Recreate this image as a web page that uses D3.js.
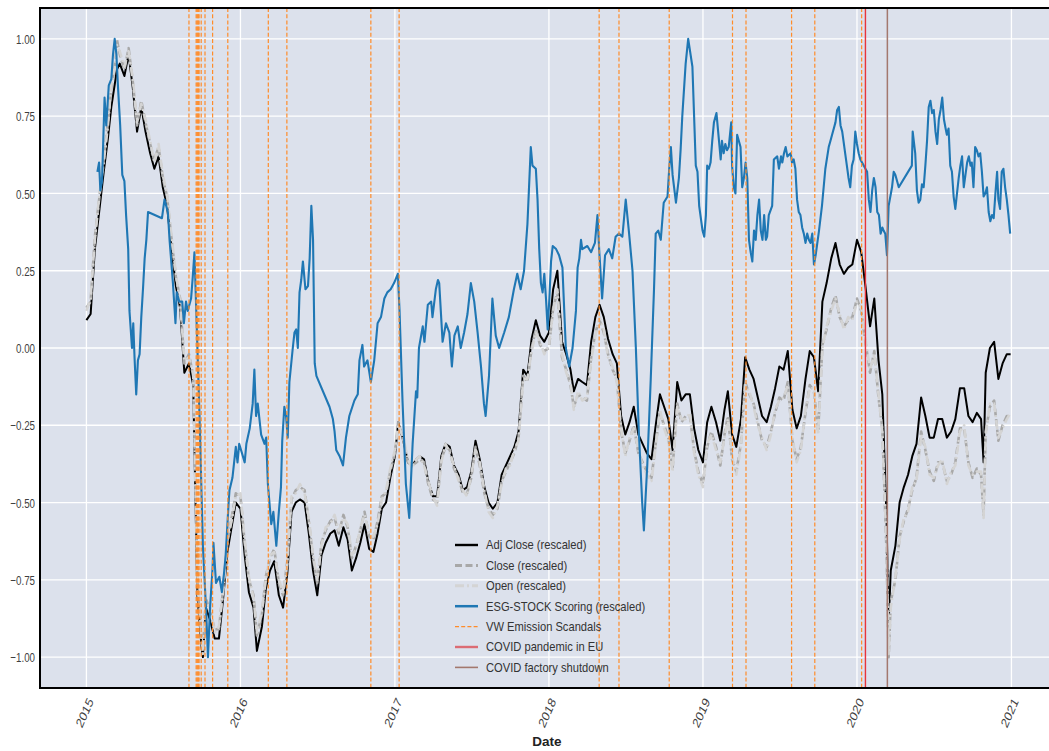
<!DOCTYPE html>
<html>
<head>
<meta charset="utf-8">
<script src="https://cdn.jsdelivr.net/npm/d3@7"></script>
<style>
  body { margin: 0; background: #fff; }
  svg { display: block; font-family: "Liberation Sans", Arial, Helvetica, sans-serif; }
</style>
</head>
<body>
<svg id="chart" width="1049" height="751"></svg>
<script>
// ---- data (all series rescaled to [-1, 1]) ----
const stockDates = [
  "2015-01-01","2015-01-11","2015-01-21","2015-02-01","2015-02-11","2015-02-21","2015-03-01","2015-03-11","2015-03-14","2015-03-21","2015-04-01","2015-04-11","2015-04-21","2015-05-01","2015-05-11","2015-05-21","2015-06-01","2015-06-11","2015-06-21","2015-07-01","2015-07-11","2015-07-21","2015-08-01","2015-08-11","2015-08-21","2015-09-01","2015-09-11","2015-09-21","2015-10-01","2015-10-04","2015-10-11","2015-10-21","2015-11-01","2015-11-11","2015-11-21","2015-12-01","2015-12-11","2015-12-21",
  "2016-01-01","2016-01-11","2016-01-21","2016-02-01","2016-02-09","2016-02-21","2016-03-01","2016-03-11","2016-03-21","2016-04-01","2016-04-11","2016-04-21","2016-05-01","2016-05-11","2016-05-21","2016-06-01","2016-06-11","2016-06-21","2016-07-01","2016-07-11","2016-07-21","2016-08-01","2016-08-11","2016-08-21","2016-09-01","2016-09-11","2016-09-21","2016-10-01","2016-10-11","2016-10-21","2016-11-01","2016-11-11","2016-11-21","2016-12-01","2016-12-11","2016-12-21",
  "2017-01-01","2017-01-09","2017-01-21","2017-02-01","2017-02-11","2017-02-21","2017-03-01","2017-03-11","2017-03-21","2017-04-01","2017-04-11","2017-04-21","2017-05-01","2017-05-11","2017-05-21","2017-06-01","2017-06-11","2017-06-21","2017-07-01","2017-07-11","2017-07-21","2017-08-01","2017-08-11","2017-08-21","2017-09-01","2017-09-11","2017-09-21","2017-10-01","2017-10-11","2017-10-21","2017-11-01","2017-11-11","2017-11-21","2017-12-01","2017-12-11","2017-12-21",
  "2018-01-01","2018-01-11","2018-01-21","2018-02-01","2018-02-11","2018-02-21","2018-03-01","2018-03-11","2018-03-21","2018-04-01","2018-04-11","2018-04-21","2018-05-01","2018-05-11","2018-05-21","2018-06-01","2018-06-11","2018-06-21","2018-07-01","2018-07-11","2018-07-21","2018-08-01","2018-08-11","2018-08-21","2018-09-01","2018-09-11","2018-09-21","2018-10-01","2018-10-11","2018-10-21","2018-11-01","2018-11-11","2018-11-21","2018-12-01","2018-12-11","2018-12-21",
  "2019-01-01","2019-01-11","2019-01-21","2019-02-01","2019-02-11","2019-02-21","2019-03-01","2019-03-11","2019-03-21","2019-04-01","2019-04-11","2019-04-21","2019-05-01","2019-05-11","2019-05-21","2019-06-01","2019-06-11","2019-06-21","2019-07-01","2019-07-11","2019-07-21","2019-08-01","2019-08-11","2019-08-21","2019-09-01","2019-09-11","2019-09-21","2019-10-01","2019-10-11","2019-10-21","2019-11-01","2019-11-11","2019-11-21","2019-12-01","2019-12-11","2019-12-21",
  "2020-01-01","2020-01-11","2020-01-21","2020-02-01","2020-02-11","2020-02-21","2020-03-01","2020-03-11","2020-03-16","2020-03-21","2020-04-01","2020-04-11","2020-04-21","2020-05-01","2020-05-11","2020-05-21","2020-06-01","2020-06-11","2020-06-21","2020-07-01","2020-07-11","2020-07-21","2020-08-01","2020-08-11","2020-08-21","2020-09-01","2020-09-11","2020-09-21","2020-10-01","2020-10-11","2020-10-21","2020-10-27","2020-11-01","2020-11-11","2020-11-21","2020-12-01","2020-12-11","2020-12-21","2020-12-30"
];

const adjClose = [
  0.09, 0.11, 0.32, 0.45, 0.57, 0.68, 0.78, 0.87, 0.90, 0.92, 0.88, 0.95, 0.84, 0.70, 0.78, 0.70, 0.63, 0.58, 0.62, 0.52, 0.46, 0.33, 0.20, 0.13, -0.08, -0.05, -0.12, -0.80, -0.97, -1.00, -0.84, -0.88, -0.94, -0.94, -0.81, -0.66, -0.58, -0.50,
  -0.52, -0.67, -0.79, -0.84, -0.98, -0.90, -0.78, -0.72, -0.69, -0.80, -0.84, -0.73, -0.53, -0.50, -0.49, -0.50, -0.60, -0.72, -0.80, -0.67, -0.63, -0.60, -0.59, -0.64, -0.58, -0.62, -0.72, -0.68, -0.63, -0.57, -0.65, -0.66, -0.60, -0.52, -0.50, -0.42,
  -0.35, -0.24, -0.30, -0.37, -0.38, -0.36, -0.35, -0.36, -0.43, -0.48, -0.48, -0.35, -0.31, -0.32, -0.38, -0.41, -0.46, -0.45, -0.40, -0.30, -0.36, -0.45, -0.50, -0.52, -0.50, -0.41, -0.38, -0.35, -0.32, -0.27, -0.07, -0.09, 0.03, 0.09, 0.04, 0.02,
  0.05, 0.19, 0.25, 0.02, -0.02, -0.07, -0.14, -0.10, -0.11, -0.12, 0.02, 0.10, 0.14, 0.10, 0.03, -0.02, -0.05, -0.22, -0.28, -0.24, -0.19, -0.28, -0.31, -0.34, -0.36, -0.25, -0.15, -0.19, -0.23, -0.33, -0.11, -0.17, -0.15, -0.15, -0.26, -0.33,
  -0.37, -0.24, -0.19, -0.24, -0.30, -0.20, -0.14, -0.28, -0.32, -0.23, -0.03, -0.07, -0.10, -0.16, -0.22, -0.24, -0.19, -0.13, -0.06, -0.07, -0.01, -0.20, -0.26, -0.22, -0.10, -0.01, -0.03, -0.14, 0.15, 0.21, 0.29, 0.34, 0.27, 0.24, 0.26, 0.27,
  0.35, 0.31, 0.20, 0.07, 0.16, -0.04, -0.15, -0.55, -0.89, -0.72, -0.64, -0.50, -0.45, -0.41, -0.35, -0.31, -0.16, -0.22, -0.29, -0.29, -0.23, -0.23, -0.29, -0.27, -0.23, -0.13, -0.13, -0.22, -0.24, -0.21, -0.23, -0.37, -0.08, 0.00, 0.02, -0.10, -0.05, -0.02, -0.02
];

const closePrice = [
  0.13, 0.15, 0.36, 0.49, 0.61, 0.73, 0.84, 0.93, 1.00, 0.95, 0.90, 0.97, 0.86, 0.72, 0.80, 0.73, 0.66, 0.61, 0.65, 0.55, 0.49, 0.36, 0.23, 0.16, -0.05, -0.02, -0.09, -0.77, -0.95, -0.98, -0.81, -0.85, -0.91, -0.91, -0.78, -0.63, -0.55, -0.47,
  -0.48, -0.63, -0.75, -0.80, -0.93, -0.86, -0.74, -0.68, -0.65, -0.76, -0.80, -0.69, -0.49, -0.46, -0.45, -0.46, -0.56, -0.68, -0.76, -0.63, -0.59, -0.56, -0.55, -0.60, -0.54, -0.58, -0.68, -0.64, -0.59, -0.53, -0.61, -0.62, -0.56, -0.48, -0.47, -0.40,
  -0.34, -0.24, -0.30, -0.37, -0.38, -0.37, -0.36, -0.37, -0.44, -0.49, -0.50, -0.36, -0.32, -0.33, -0.39, -0.42, -0.47, -0.47, -0.42, -0.32, -0.38, -0.47, -0.52, -0.54, -0.52, -0.43, -0.40, -0.37, -0.34, -0.29, -0.09, -0.11, 0.00, 0.06, 0.01, -0.01,
  0.00, 0.13, 0.18, -0.03, -0.07, -0.12, -0.19, -0.15, -0.16, -0.17, -0.03, 0.05, 0.09, 0.05, -0.02, -0.07, -0.10, -0.27, -0.34, -0.30, -0.25, -0.34, -0.37, -0.40, -0.42, -0.31, -0.21, -0.25, -0.29, -0.39, -0.18, -0.24, -0.22, -0.22, -0.33, -0.40,
  -0.44, -0.32, -0.27, -0.32, -0.38, -0.28, -0.22, -0.36, -0.40, -0.31, -0.11, -0.15, -0.18, -0.24, -0.30, -0.32, -0.27, -0.21, -0.16, -0.17, -0.11, -0.30, -0.36, -0.32, -0.21, -0.12, -0.14, -0.27, 0.01, 0.06, 0.13, 0.17, 0.10, 0.07, 0.09, 0.10,
  0.16, 0.12, 0.02, -0.08, -0.01, -0.16, -0.26, -0.66, -1.00, -0.82, -0.75, -0.61, -0.56, -0.52, -0.46, -0.42, -0.27, -0.33, -0.40, -0.43, -0.37, -0.37, -0.43, -0.41, -0.37, -0.26, -0.26, -0.37, -0.42, -0.39, -0.41, -0.54, -0.27, -0.19, -0.17, -0.30, -0.25, -0.22, -0.22
];

const openPrice = [
  0.12, 0.16, 0.35, 0.50, 0.60, 0.72, 0.85, 0.92, 0.98, 0.96, 0.91, 0.96, 0.87, 0.73, 0.79, 0.74, 0.67, 0.60, 0.66, 0.56, 0.50, 0.37, 0.24, 0.15, -0.04, -0.03, -0.08, -0.74, -0.94, -0.99, -0.82, -0.84, -0.92, -0.90, -0.79, -0.62, -0.56, -0.48,
  -0.47, -0.62, -0.74, -0.81, -0.92, -0.85, -0.75, -0.67, -0.66, -0.75, -0.79, -0.70, -0.48, -0.47, -0.44, -0.47, -0.55, -0.67, -0.75, -0.64, -0.58, -0.57, -0.54, -0.59, -0.55, -0.57, -0.67, -0.65, -0.58, -0.54, -0.60, -0.61, -0.57, -0.49, -0.46, -0.39,
  -0.33, -0.25, -0.29, -0.36, -0.39, -0.36, -0.35, -0.38, -0.43, -0.48, -0.51, -0.37, -0.31, -0.34, -0.38, -0.43, -0.46, -0.48, -0.41, -0.33, -0.37, -0.46, -0.53, -0.55, -0.51, -0.44, -0.39, -0.38, -0.33, -0.30, -0.10, -0.10, -0.01, 0.05, 0.02, -0.02,
  0.01, 0.12, 0.19, -0.02, -0.08, -0.11, -0.20, -0.14, -0.17, -0.16, -0.04, 0.04, 0.10, 0.06, -0.03, -0.06, -0.11, -0.26, -0.35, -0.29, -0.26, -0.33, -0.38, -0.41, -0.43, -0.32, -0.20, -0.26, -0.30, -0.40, -0.19, -0.23, -0.23, -0.21, -0.34, -0.41,
  -0.45, -0.31, -0.28, -0.33, -0.37, -0.29, -0.23, -0.35, -0.41, -0.32, -0.12, -0.14, -0.19, -0.25, -0.29, -0.33, -0.28, -0.20, -0.17, -0.16, -0.12, -0.29, -0.37, -0.33, -0.20, -0.13, -0.13, -0.28, 0.00, 0.07, 0.12, 0.16, 0.11, 0.06, 0.10, 0.09,
  0.15, 0.13, 0.03, -0.07, -0.02, -0.15, -0.27, -0.64, -0.99, -0.84, -0.74, -0.62, -0.55, -0.53, -0.45, -0.43, -0.28, -0.32, -0.41, -0.42, -0.38, -0.36, -0.44, -0.40, -0.38, -0.27, -0.25, -0.38, -0.41, -0.40, -0.40, -0.55, -0.28, -0.18, -0.18, -0.29, -0.26, -0.23, -0.21
];

// ESG-STOCK scoring, [date, rescaled score]
const esgScoring = [
  ["2015-01-27",0.57],["2015-01-31",0.60],["2015-02-03",0.51],["2015-02-07",0.54],["2015-02-13",0.81],["2015-02-17",0.72],["2015-02-23",0.85],["2015-03-01",0.87],["2015-03-05",0.95],["2015-03-09",1.00],["2015-03-13",0.95],["2015-03-17",0.84],["2015-03-22",0.72],["2015-03-27",0.56],["2015-04-01",0.54],["2015-04-05",0.43],["2015-04-10",0.32],["2015-04-13",0.12],["2015-04-19",0.00],["2015-04-22",0.08],["2015-04-25",-0.03],["2015-04-29",-0.15],["2015-05-03",-0.04],["2015-05-07",-0.02],["2015-05-11",0.10],["2015-05-15",0.19],["2015-05-19",0.29],["2015-05-23",0.35],["2015-05-27",0.44],
  ["2015-06-29",0.42],["2015-07-05",0.48],["2015-07-13",0.44],["2015-07-17",0.35],["2015-07-25",0.21],["2015-07-31",0.08],["2015-08-03",0.18],["2015-08-09",0.15],["2015-08-16",0.15],["2015-08-20",0.08],["2015-08-25",0.15],["2015-08-29",0.12],["2015-09-06",0.16],["2015-09-10",0.23],["2015-09-14",0.31],["2015-09-26",-0.22],["2015-10-04",-0.64],["2015-10-12",-0.86],["2015-10-16",-1.00],["2015-10-21",-0.84],["2015-10-27",-0.71],["2015-10-29",-0.63],["2015-11-04",-0.76],["2015-11-12",-0.74],["2015-11-18",-0.79],["2015-11-23",-0.73],["2015-11-27",-0.67],["2015-12-04",-0.50],["2015-12-06",-0.46],["2015-12-13",-0.42],["2015-12-21",-0.32],["2015-12-25",-0.37],["2015-12-29",-0.31],
  ["2016-01-11",-0.37],["2016-01-15",-0.31],["2016-01-23",-0.26],["2016-01-30",-0.18],["2016-02-03",-0.07],["2016-02-07",-0.22],["2016-02-11",-0.18],["2016-02-19",-0.28],["2016-02-27",-0.31],["2016-03-02",-0.29],["2016-03-06",-0.44],["2016-03-14",-0.57],["2016-03-19",-0.53],["2016-03-26",-0.64],["2016-04-01",-0.53],["2016-04-06",-0.45],["2016-04-09",-0.30],["2016-04-14",-0.19],["2016-04-18",-0.22],["2016-04-22",-0.29],["2016-04-26",-0.11],["2016-05-04",0.00],["2016-05-08",0.05],["2016-05-12",0.06],["2016-05-16",0.00],["2016-05-20",0.18],["2016-05-24",0.22],["2016-05-28",0.28],["2016-06-03",0.19],["2016-06-09",0.20],["2016-06-13",0.29],["2016-06-17",0.46],["2016-06-21",0.35],["2016-06-25",-0.05],["2016-06-29",-0.09],
  ["2016-07-30",-0.19],["2016-08-07",-0.23],["2016-08-11",-0.27],["2016-08-15",-0.33],["2016-08-23",-0.35],["2016-08-31",-0.38],["2016-09-07",-0.29],["2016-09-15",-0.22],["2016-09-27",-0.17],["2016-10-05",-0.15],["2016-10-09",-0.04],["2016-10-16",0.01],["2016-10-20",-0.06],["2016-10-28",-0.04],["2016-11-05",-0.11],["2016-11-13",-0.04],["2016-11-21",0.08],["2016-11-29",0.10],["2016-12-07",0.16],["2016-12-14",0.18],["2016-12-22",0.19],["2016-12-30",0.21],
  ["2017-01-08",0.24],["2017-01-12",0.12],["2017-01-19",-0.17],["2017-01-27",-0.44],["2017-02-04",-0.55],["2017-02-12",-0.31],["2017-02-20",-0.14],["2017-02-23",-0.16],["2017-02-27",0.00],["2017-03-08",0.07],["2017-03-12",0.02],["2017-03-20",0.14],["2017-03-28",0.15],["2017-03-31",0.10],["2017-04-08",0.19],["2017-04-13",0.22],["2017-04-16",0.21],["2017-04-24",0.02],["2017-05-02",0.08],["2017-05-10",0.05],["2017-05-16",-0.06],["2017-05-22",0.04],["2017-05-30",0.07],["2017-06-06",0.00],["2017-06-14",0.05],["2017-06-22",0.11],["2017-06-30",0.21],["2017-07-08",0.15],["2017-07-16",0.05],["2017-07-24",-0.06],["2017-07-31",-0.18],["2017-08-04",-0.22],["2017-08-12",-0.09],["2017-08-20",0.16],["2017-08-28",0.04],["2017-09-05",0.00],["2017-09-17",0.05],["2017-09-28",0.10],["2017-10-10",0.19],["2017-10-18",0.24],["2017-10-26",0.19],["2017-11-03",0.25],["2017-11-11",0.40],["2017-11-19",0.65],["2017-11-23",0.59],["2017-12-01",0.58],["2017-12-05",0.48],["2017-12-09",0.32],["2017-12-13",0.21],["2017-12-17",0.18],["2017-12-21",0.24],["2017-12-25",0.16],["2017-12-29",0.06],
  ["2018-01-02",0.16],["2018-01-06",0.28],["2018-01-10",0.33],["2018-01-18",0.32],["2018-01-25",0.30],["2018-02-02",0.26],["2018-02-10",0.00],["2018-02-18",-0.06],["2018-02-26",0.00],["2018-03-06",0.12],["2018-03-10",0.26],["2018-03-14",0.29],["2018-03-18",0.35],["2018-03-21",0.32],["2018-04-02",0.33],["2018-04-11",0.31],["2018-04-20",0.34],["2018-04-26",0.43],["2018-04-30",0.32],["2018-05-07",0.16],["2018-05-14",0.30],["2018-05-23",0.32],["2018-05-31",0.29],["2018-06-08",0.36],["2018-06-16",0.37],["2018-06-24",0.36],["2018-07-02",0.48],["2018-07-10",0.37],["2018-07-18",0.25],["2018-07-26",0.00],["2018-08-02",-0.27],["2018-08-10",-0.50],["2018-08-14",-0.59],["2018-08-22",-0.38],["2018-08-30",-0.11],["2018-09-07",0.19],["2018-09-11",0.37],["2018-09-17",0.38],["2018-09-23",0.35],["2018-09-30",0.47],["2018-10-09",0.49],["2018-10-13",0.58],["2018-10-17",0.65],["2018-10-21",0.56],["2018-10-29",0.47],["2018-11-05",0.55],["2018-11-09",0.64],["2018-11-13",0.75],["2018-11-21",0.92],["2018-11-27",1.00],["2018-12-07",0.91],["2018-12-15",0.59],["2018-12-19",0.57],["2018-12-23",0.46],["2018-12-31",0.38],
  ["2019-01-04",0.36],["2019-01-08",0.43],["2019-01-11",0.59],["2019-01-15",0.58],["2019-01-19",0.60],["2019-01-23",0.67],["2019-01-27",0.73],["2019-02-02",0.76],["2019-02-08",0.67],["2019-02-12",0.61],["2019-02-15",0.67],["2019-02-19",0.63],["2019-02-23",0.66],["2019-02-27",0.64],["2019-03-03",0.65],["2019-03-09",0.73],["2019-03-11",0.59],["2019-03-15",0.52],["2019-03-19",0.50],["2019-03-23",0.69],["2019-03-31",0.65],["2019-04-04",0.52],["2019-04-08",0.55],["2019-04-12",0.60],["2019-04-16",0.55],["2019-04-20",0.35],["2019-04-24",0.31],["2019-04-28",0.28],["2019-05-02",0.38],["2019-05-06",0.35],["2019-05-10",0.43],["2019-05-14",0.48],["2019-05-18",0.38],["2019-05-22",0.35],["2019-05-26",0.43],["2019-05-30",0.35],["2019-06-02",0.36],["2019-06-06",0.43],["2019-06-14",0.46],["2019-06-18",0.61],["2019-06-26",0.62],["2019-06-30",0.58],["2019-07-05",0.62],["2019-07-08",0.60],["2019-07-12",0.63],["2019-07-16",0.65],["2019-07-20",0.62],["2019-07-28",0.63],["2019-07-31",0.60],["2019-08-04",0.61],["2019-08-08",0.58],["2019-08-12",0.48],["2019-08-16",0.44],["2019-08-20",0.43],["2019-08-24",0.39],["2019-08-28",0.37],["2019-09-01",0.34],["2019-09-05",0.37],["2019-09-09",0.35],["2019-09-13",0.34],["2019-09-17",0.37],["2019-09-21",0.27],["2019-09-25",0.30],["2019-10-03",0.38],["2019-10-10",0.46],["2019-10-18",0.58],["2019-10-26",0.65],["2019-10-30",0.67],["2019-11-03",0.69],["2019-11-11",0.73],["2019-11-15",0.77],["2019-11-19",0.78],["2019-11-23",0.72],["2019-11-27",0.70],["2019-11-30",0.67],["2019-12-04",0.63],["2019-12-08",0.59],["2019-12-12",0.55],["2019-12-16",0.52],["2019-12-20",0.59],["2019-12-24",0.61],["2019-12-28",0.70],
  ["2020-01-01",0.66],["2020-01-05",0.63],["2020-01-09",0.61],["2020-01-13",0.60],["2020-01-21",0.58],["2020-01-25",0.57],["2020-01-29",0.48],["2020-02-02",0.44],["2020-02-06",0.51],["2020-02-10",0.55],["2020-02-14",0.52],["2020-02-18",0.44],["2020-02-22",0.43],["2020-02-26",0.37],["2020-03-01",0.39],["2020-03-04",0.38],["2020-03-08",0.37],["2020-03-12",0.30],["2020-03-16",0.46],["2020-03-20",0.49],["2020-03-24",0.52],["2020-03-28",0.57],["2020-04-01",0.56],["2020-04-09",0.52],
  ["2020-05-10",0.59],["2020-05-12",0.70],["2020-05-18",0.63],["2020-05-22",0.51],["2020-05-26",0.47],["2020-05-30",0.48],["2020-06-03",0.53],["2020-06-07",0.52],["2020-06-11",0.59],["2020-06-15",0.67],["2020-06-19",0.78],["2020-06-23",0.80],["2020-06-27",0.76],["2020-07-01",0.77],["2020-07-05",0.70],["2020-07-09",0.66],["2020-07-13",0.74],["2020-07-17",0.77],["2020-07-21",0.81],["2020-07-25",0.74],["2020-07-29",0.71],["2020-08-01",0.69],["2020-08-05",0.71],["2020-08-09",0.59],["2020-08-13",0.57],["2020-08-17",0.49],["2020-08-21",0.45],["2020-08-25",0.50],["2020-08-29",0.55],["2020-09-02",0.59],["2020-09-06",0.62],["2020-09-10",0.52],["2020-09-14",0.56],["2020-09-18",0.60],["2020-09-22",0.62],["2020-09-26",0.59],["2020-09-29",0.60],["2020-10-03",0.52],["2020-10-07",0.65],["2020-10-11",0.64],["2020-10-15",0.62],["2020-10-19",0.63],["2020-10-23",0.57],["2020-10-27",0.49],["2020-10-31",0.50],["2020-11-04",0.52],["2020-11-08",0.44],["2020-11-12",0.41],["2020-11-16",0.43],["2020-11-20",0.42],["2020-11-24",0.50],["2020-11-28",0.57],["2020-12-01",0.48],["2020-12-05",0.45],["2020-12-09",0.57],["2020-12-13",0.58],["2020-12-17",0.52],["2020-12-21",0.48],["2020-12-25",0.43],["2020-12-29",0.37]
];

// event markers
const vwScandalDates = [
  "2015-09-01","2015-09-18","2015-09-20","2015-09-22","2015-09-23","2015-09-25","2015-09-30","2015-10-09","2015-10-27","2015-12-02",
  "2016-03-07","2016-04-20","2016-11-05","2017-01-11","2018-04-30","2018-06-16","2018-10-13",
  "2019-03-12","2019-04-13","2019-07-30","2019-09-23","2020-01-12"
];
const covidEuDates = ["2020-01-21"];
const factoryShutdownDates = ["2020-03-13"];

// axes
const yTickValues = [-1, -0.75, -0.5, -0.25, 0, 0.25, 0.5, 0.75, 1];
const xTickYears = [2015, 2016, 2017, 2018, 2019, 2020, 2021];
const xDomain = ["2014-09-13", "2021-03-31"];
const yDomain = [-1.1, 1.1];

const legendLabels = [
  "Adj Close (rescaled)", "Close (rescaled)", "Open (rescaled)",
  "ESG-STOCK Scoring (rescaled)", "VW Emission Scandals",
  "COVID pandemic in EU", "COVID factory shutdown"
];

// ---- drawing ----
const parse = d3.timeParse("%Y-%m-%d");
const plot = { left: 40, right: 1049, top: 8, bottom: 688 };

const x = d3.scaleTime().domain(xDomain.map(parse)).range([plot.left, plot.right]);
const y = d3.scaleLinear().domain(yDomain).range([plot.bottom, plot.top]);

const svg = d3.select("#chart");

svg.append("defs").append("clipPath").attr("id", "plot-clip")
  .append("rect")
  .attr("x", plot.left).attr("y", plot.top)
  .attr("width", plot.right - plot.left).attr("height", plot.bottom - plot.top);

svg.append("rect")
  .attr("x", plot.left).attr("y", plot.top)
  .attr("width", plot.right - plot.left).attr("height", plot.bottom - plot.top)
  .attr("fill", "#dce1ec");

// grid
const grid = svg.append("g").attr("stroke", "#ffffff").attr("stroke-width", 1.3);
grid.selectAll("line.h").data(yTickValues).join("line")
  .attr("x1", plot.left).attr("x2", plot.right)
  .attr("y1", d => y(d)).attr("y2", d => y(d));
grid.selectAll("line.v").data(xTickYears).join("line")
  .attr("x1", d => x(new Date(d, 0, 1))).attr("x2", d => x(new Date(d, 0, 1)))
  .attr("y1", plot.top).attr("y2", plot.bottom);

const plotArea = svg.append("g").attr("clip-path", "url(#plot-clip)");

const stockLine = values => d3.line()
  .defined((d, i) => values[i] != null)
  .x(d => x(parse(d)))
  .y((d, i) => y(values[i]))(stockDates);

const seriesStyles = {
  adj:   { stroke: "#000000", width: 2.0, dash: null },
  close: { stroke: "#a8a8a8", width: 2.6, dash: "7,3.5" },
  open:  { stroke: "#d4d4d4", width: 2.6, dash: "9,3,2,3" },
  esg:   { stroke: "#1f77b4", width: 2.1, dash: null },
  vw:    { stroke: "#ff8c2a", width: 1.2, dash: "4,2.2" },
  covid: { stroke: "#e8343a", width: 1.4, dash: null },
  shut:  { stroke: "#a3786e", width: 1.5, dash: null }
};

function drawPath(d, st) {
  plotArea.append("path")
    .attr("d", d)
    .attr("fill", "none")
    .attr("stroke", st.stroke)
    .attr("stroke-width", st.width)
    .attr("stroke-dasharray", st.dash)
    .attr("stroke-linejoin", "round");
}

drawPath(stockLine(adjClose), seriesStyles.adj);
drawPath(stockLine(closePrice), seriesStyles.close);
drawPath(stockLine(openPrice), seriesStyles.open);

const esgLine = d3.line().x(d => x(parse(d[0]))).y(d => y(d[1]));
drawPath(esgLine(esgScoring), seriesStyles.esg);

function drawEventLines(dates, st) {
  plotArea.append("g").selectAll("line").data(dates).join("line")
    .attr("x1", d => x(parse(d))).attr("x2", d => x(parse(d)))
    .attr("y1", plot.top).attr("y2", plot.bottom)
    .attr("stroke", st.stroke)
    .attr("stroke-width", st.width)
    .attr("stroke-dasharray", st.dash);
}
drawEventLines(vwScandalDates, seriesStyles.vw);
drawEventLines(covidEuDates, seriesStyles.covid);
drawEventLines(factoryShutdownDates, seriesStyles.shut);

// spines
const spines = svg.append("g").attr("stroke", "#000").attr("stroke-width", 2);
spines.append("line").attr("x1", plot.left).attr("x2", plot.right).attr("y1", plot.top).attr("y2", plot.top);
spines.append("line").attr("x1", plot.left).attr("x2", plot.left).attr("y1", plot.top - 1).attr("y2", plot.bottom + 1);
spines.append("line").attr("x1", plot.left).attr("x2", plot.right).attr("y1", plot.bottom).attr("y2", plot.bottom);

// y tick labels
const fmt = d3.format(".2f");
svg.append("g").selectAll("text").data(yTickValues).join("text")
  .attr("transform", d => `translate(35,${y(d)}) scale(0.74,1)`)
  .attr("text-anchor", "end")
  .attr("dominant-baseline", "central")
  .attr("font-size", 13.2)
  .attr("fill", "#3f3f3f")
  .text(d => fmt(d).replace("-", "\u2212"));

// x tick labels (rotated)
svg.append("g").selectAll("text").data(xTickYears).join("text")
  .attr("transform", d => `translate(${x(new Date(d, 0, 1)) - 1.5},713) scale(0.78,1) rotate(-61)`)
  .attr("text-anchor", "middle")
  .attr("dominant-baseline", "central")
  .attr("font-size", 14)
  .attr("fill", "#3f3f3f")
  .text(d => d);

// axis title
svg.append("text")
  .attr("x", 547).attr("y", 741)
  .attr("text-anchor", "middle")
  .attr("dominant-baseline", "central")
  .attr("font-size", 13.5)
  .attr("font-weight", "bold")
  .attr("fill", "#222")
  .text("Date");

// legend
const legendStyles = [
  seriesStyles.adj, seriesStyles.close, seriesStyles.open, seriesStyles.esg,
  seriesStyles.vw,
  { stroke: "#dc6c74", width: 2.4, dash: null },
  { stroke: "#a3786e", width: 1.6, dash: null }
];
const legend = svg.append("g");
legendLabels.forEach((label, i) => {
  const ly = 545 + i * 20.4;
  const st = legendStyles[i];
  legend.append("line")
    .attr("x1", 455).attr("x2", 478).attr("y1", ly).attr("y2", ly)
    .attr("stroke", st.stroke)
    .attr("stroke-width", i < 4 ? st.width + 0.4 : st.width)
    .attr("stroke-dasharray", st.dash);
  legend.append("text")
    .attr("transform", `translate(486,${ly}) scale(0.84,1)`)
    .attr("dominant-baseline", "central")
    .attr("font-size", 13.3)
    .attr("fill", "#333")
    .text(label);
});
</script>
</body>
</html>
